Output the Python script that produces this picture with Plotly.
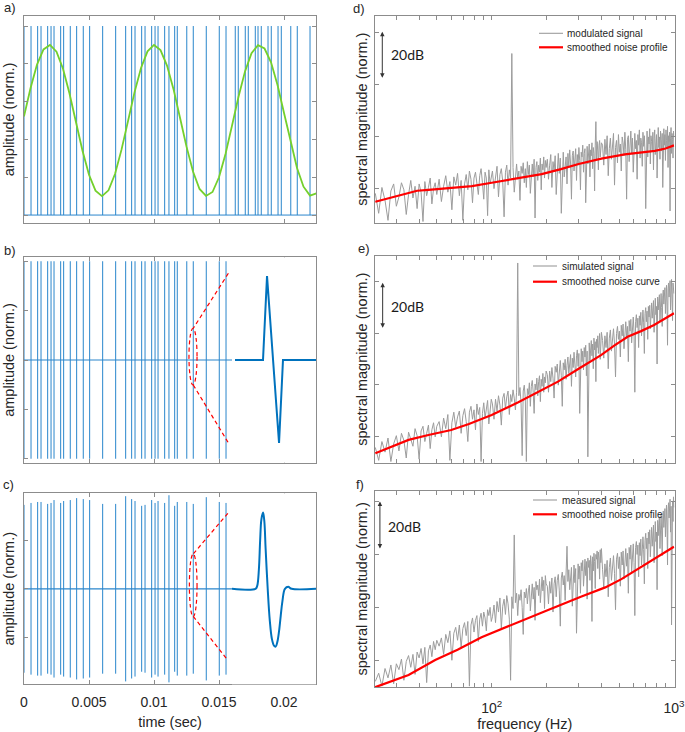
import plotly.graph_objects as go

# ---------------- data ----------------
# spike-train event times (s)
SPIKE_T = [0.0, 0.00054, 0.00105, 0.00131, 0.00182, 0.00208, 0.00231, 0.00282, 0.00305, 0.00356,
           0.00405, 0.00456, 0.00505, 0.00605, 0.00705, 0.00782, 0.00828, 0.00854, 0.00905, 0.00931,
           0.00982, 0.01008, 0.01031, 0.01082, 0.01115, 0.01159, 0.01179, 0.01252, 0.01302, 0.01402,
           0.01502, 0.01554, 0.01625, 0.01648, 0.01702, 0.01725, 0.01779, 0.01800, 0.01825, 0.01877,
           0.01902, 0.01954, 0.01979, 0.02052, 0.02102, 0.02200]
# panel c pulse amplitudes (first 32 events)
C_AMP = [0.87, 0.89, 0.90, 0.90, 0.88, 0.89, 0.92, 0.89, 0.91, 0.92, 0.94, 0.93, 0.92, 0.88, 0.88, 0.96,
         0.93, 0.91, 0.86, 0.87, 0.92, 0.89, 0.91, 0.89, 0.97, 0.86, 0.90, 0.90, 0.88, 0.95, 0.90, 0.89]
C_INSET_T = [0.01638, 0.01715, 0.01790, 0.01890, 0.01967, 0.02064, 0.02121, 0.02192]

# modulating sine (panel a)
SINE_T = [0.0, 0.0005, 0.001, 0.0015, 0.002, 0.0025, 0.003, 0.0035, 0.004, 0.0045, 0.005, 0.0055,
          0.006, 0.0065, 0.007, 0.0075, 0.008, 0.0085, 0.009, 0.0095, 0.01, 0.0105, 0.011, 0.0115,
          0.012, 0.0125, 0.013, 0.0135, 0.014, 0.0145, 0.015, 0.0155, 0.016, 0.0165, 0.017, 0.0175,
          0.018, 0.0185, 0.019, 0.0195, 0.02, 0.0205, 0.021, 0.0215, 0.022, 0.0225]
SINE_V = [0.522, 0.671, 0.796, 0.876, 0.900, 0.864, 0.774, 0.643, 0.491, 0.340, 0.213, 0.129,
          0.100, 0.131, 0.217, 0.346, 0.497, 0.649, 0.778, 0.866, 0.900, 0.873, 0.791, 0.666,
          0.515, 0.362, 0.230, 0.138, 0.101, 0.122, 0.200, 0.323, 0.473, 0.626, 0.760, 0.856,
          0.899, 0.881, 0.808, 0.688, 0.540, 0.386, 0.249, 0.150, 0.103, 0.115]

# zoomed pulse shapes (inset, normalised time 0..1)
WB_T = [0.036, 0.369, 0.417, 0.560, 0.607, 1.0]
WB_V = [0.0, 0.0, 0.85, -0.84, 0.0, 0.0]
WC_T = [0.0, 0.28, 0.30, 0.32, 0.335, 0.35, 0.37, 0.385, 0.40, 0.425, 0.45, 0.475, 0.50, 0.52,
        0.54, 0.56, 0.58, 0.60, 0.63, 0.67, 0.71, 1.0]
WC_V = [0.0, 0.0, 0.03, 0.20, 0.50, 0.72, 0.79, 0.70, 0.42, 0.0, -0.33, -0.52, -0.59, -0.60,
        -0.55, -0.44, -0.28, -0.13, 0.0, 0.02, 0.0, 0.0]

TIME_RANGE = [0.0, 0.02246]
INSET_T0 = 0.016
TIME_TICKS = [0, 0.005, 0.01, 0.015, 0.02]
TIME_LABELS = ["0", "0.005", "0.01", "0.015", "0.02"]

# spectra: frequency bins (Hz)
FREQ = [23, 24, 25, 26, 27, 28, 29, 30, 31, 32, 33, 34, 35, 36, 37, 38, 39, 40, 41, 42, 43, 44, 45, 46, 47, 48, 49, 50,
        51.5, 53, 54.5, 56, 57.5, 59, 60.5, 62, 63.5, 65, 66.5, 68, 69.5, 71, 72.5, 74, 75.5, 77, 78.5, 80, 81.5,
        83, 84.5, 86, 87.5, 89, 90.5, 92, 93.5, 95, 96.5, 98, 99.5,
        101, 103, 105, 107, 109, 111, 113, 115, 117, 119, 121, 123, 125, 127, 129, 131, 133, 135, 137, 139,
        141, 143, 145, 147, 149, 151, 153, 155, 157, 159, 161, 163, 165, 167, 169, 171, 173, 175, 177, 179,
        181, 183, 185, 187, 189, 191, 193, 195, 197, 199,
        202, 205, 208, 211, 214, 217, 220, 223, 226, 229, 232, 235, 238, 241, 244, 247, 250, 253, 256, 259,
        262, 265, 268, 271, 274, 277, 280, 283, 286, 289, 292, 295, 298, 301, 304, 307, 310, 313, 316, 319,
        322, 325, 328, 331, 334, 337, 340, 343, 346, 349, 352, 355, 358, 361, 364, 367, 370, 373, 376, 379,
        382, 385, 388, 391, 394, 397, 400,
        406, 412, 418, 424, 430, 436, 442, 448, 454, 460, 466, 472, 478, 484, 490, 496, 502, 508, 514, 520,
        526, 532, 538, 544, 550, 556, 562, 568, 574, 580, 586, 592, 598, 604, 610, 616, 622, 628, 634, 640,
        646, 652, 658, 664, 670, 676, 682, 688, 694, 700, 706, 712, 718, 724, 730, 736, 742, 748, 754, 760,
        766, 772, 778, 784, 790, 796, 802, 808, 814, 820, 826, 832, 838, 844, 850, 856, 862, 868, 874, 880,
        886, 892, 898, 904, 910, 916, 922, 928, 934, 940, 946, 952, 958, 964, 970, 976, 982, 988, 994, 1000]

# spectral magnitudes (dB, normalised) per bin
D_GRAY = [12.5, 4.0, 15.0, 9.5, 1.0, 13.5, 16.5, 7.0, 11.0, 17.0, 14.0, 3.5, 12.0, 18.0, 10.5, 15.5, 6.0, 16.5, 13.0, 0.5,
          17.5, 11.5, 15.0, 19.0, 8.0, 14.5, 17.0, 12.0,
          18.5, 9.0, 15.5, 20.0, 13.0, 17.5, 5.5, 19.5, 16.0, 21.0, 11.5, 18.0, 1.0, 16.5, 20.5, 14.0, 22.0, 18.5, 8.5,
          19.0, 21.5, 15.5, 12.0, 20.0, 23.0, 17.0, 10.0, 21.5, 19.0, 3.0, 22.5, 16.5, 20.0,
          22.0, 14.5, 19.5, 24.0, 11.0, 20.5, 23.0, 17.5, 2.5, 21.5, 24.5, 16.0, 22.5, 19.0, 72.0, 23.5, 13.0, 20.0, 25.0,
          18.5, 22.0, 9.5, 24.0, 21.0, 25.5, 17.0, 23.0, 15.0, 26.0, 20.5, 24.5, 12.5, 22.0, 25.0, 19.5, 27.0, 2.0, 23.5,
          26.0, 18.0, 24.5, 21.5, 27.5, 14.0, 25.0, 22.5, 28.0, 19.0, 26.5, 23.5,
          27.0, 18.5, 24.5, 29.0, 15.0, 26.0, 22.0, 28.5, 12.0, 25.5, 29.5, 21.0, 27.5, 4.0, 24.0, 30.0, 19.5, 26.5, 28.0, 16.5,
          29.5, 23.5, 31.0, 25.0, 10.0, 28.5, 30.5, 22.0, 27.0, 31.5, 18.0, 29.0, 24.5, 32.0, 26.5, 14.0, 30.0, 28.0, 33.0, 21.5,
          29.5, 31.5, 8.5, 27.5, 32.5, 25.0, 30.5, 33.5, 19.5, 31.0, 28.5, 34.0, 23.0, 32.0, 29.5, 13.5, 33.0, 43.0, 27.0, 34.5,
          30.5, 22.5, 33.0, 35.0, 28.0, 31.5, 34.0,
          33.0, 24.5, 35.5, 29.0, 37.0, 20.0, 31.5, 36.0, 27.0, 34.5, 38.0, 16.0, 32.0, 35.0, 25.5, 37.5, 30.0, 33.5, 22.0, 36.5,
          34.0, 28.5, 38.5, 31.0, 10.0, 35.5, 37.0, 26.0, 33.0, 39.0, 29.5, 36.0, 21.5, 34.5, 38.0, 31.5, 35.0, 18.5, 37.5, 33.0,
          39.5, 27.5, 36.0, 34.0, 24.0, 38.5, 32.5, 37.0, 30.0, 6.0, 35.5, 39.0, 28.0, 36.5, 33.5, 40.0, 25.0, 37.0, 34.5, 31.0,
          38.5, 22.5, 36.0, 39.5, 29.0, 35.0, 37.5, 19.0, 34.0, 40.5, 32.0, 36.5, 27.0, 39.0, 35.5, 30.5, 38.0, 15.0, 36.5, 40.0,
          33.0, 37.5, 26.5, 39.5, 35.0, 31.5, 41.0, 23.5, 37.0, 34.5, 38.5, 5.0, 36.0, 40.5, 29.5, 38.0, 35.5, 27.5, 39.0, 36.5]
D_RED_F = [23, 39, 45, 58, 78, 100, 124, 150, 188, 240, 300, 400, 537, 650, 785, 900, 1000]
D_RED_DB = [8.9, 13.6, 14.0, 14.6, 15.6, 17.0, 18.2, 19.3, 20.7, 22.8, 25.0, 27.3, 29.1, 29.8, 30.6, 31.6, 32.9]

E_GRAY = [6.5, 1.0, 9.0, 4.5, 10.5, 0.5, 8.0, 11.5, 5.0, 12.5, 9.5, 2.0, 13.0, 10.0, 7.0, 14.5, 11.5, 1.5, 13.5, 15.5,
          9.0, 12.5, 16.0, 6.0, 14.0, 17.0, 11.0, 15.5,
          17.5, 11.0, 19.0, 14.5, 20.5, 1.0, 17.0, 21.5, 15.0, 19.5, 22.0, 12.5, 20.0, 23.0, 17.5, 9.0, 21.5, 24.0, 18.5,
          22.5, 14.0, 25.0, 20.5, 23.5, 0.5, 21.0, 25.5, 19.0, 24.0, 26.5, 16.5, 23.0, 27.0,
          25.0, 18.5, 27.0, 22.0, 28.5, 24.5, 16.0, 27.5, 29.5, 23.0, 28.0, 30.5, 20.5, 29.0, 26.0, 31.0, 27.5, 22.5, 30.0, 85.0,
          28.5, 32.0, 25.0, 3.0, 30.5, 33.0, 27.0, 0.5, 31.5, 29.0, 34.0, 24.0, 32.5, 35.0, 30.0, 21.0, 33.5, 31.0, 36.0, 28.5,
          34.5, 37.0, 26.0, 35.5, 32.5, 38.0, 30.0, 36.5, 34.0, 39.0,
          37.5, 30.0, 39.0, 34.5, 40.5, 36.0, 27.5, 41.0, 38.5, 42.0, 33.0, 40.0, 43.5, 37.0, 24.0, 42.5, 39.5, 44.0, 35.5, 41.5,
          45.0, 38.0, 43.0, 46.0, 32.5, 44.5, 40.5, 47.0, 42.0, 36.5, 45.5, 48.0, 41.0, 46.5, 21.0, 44.0, 48.5, 43.0, 47.5, 39.5,
          49.0, 45.0, 50.0, 37.0, 47.5, 2.5, 46.0, 51.0, 43.5, 49.5, 52.0, 45.5, 50.5, 40.0, 53.0, 48.0, 51.5, 34.5, 52.5, 49.0,
          54.0, 46.5, 53.0, 55.0, 44.0, 51.0, 55.5,
          52.0, 44.5, 54.0, 49.0, 55.5, 40.0, 53.0, 56.5, 47.5, 54.5, 57.0, 50.5, 36.5, 55.0, 58.0, 52.5, 56.0, 45.0, 58.5, 54.0,
          59.0, 48.5, 57.0, 60.0, 53.5, 58.0, 43.0, 60.5, 56.0, 61.0, 51.0, 59.5, 62.0, 55.5, 30.0, 60.0, 63.0, 57.5, 61.5, 49.0,
          62.5, 58.5, 64.0, 54.0, 61.0, 65.0, 59.5, 46.5, 63.5, 66.0, 60.0, 64.5, 52.5, 66.5, 62.0, 67.0, 57.0, 65.5, 68.0, 61.5,
          64.0, 69.0, 55.5, 67.5, 70.0, 63.0, 66.5, 42.0, 70.5, 65.0, 68.5, 71.5, 60.0, 69.5, 72.0, 66.0, 58.0, 71.0, 73.5, 67.5,
          70.0, 74.5, 63.5, 72.5, 75.5, 68.0, 50.0, 74.0, 76.5, 70.5, 73.0, 77.5, 65.0, 75.0, 78.0, 71.5, 60.5, 76.5, 74.0, 72.0]
E_RED_F = [23, 35, 45, 60, 75, 100, 140, 180, 231, 300, 398, 470, 557, 660, 778, 1000]
E_RED_DB = [4.0, 9.7, 11.8, 13.9, 16.5, 20.3, 25.7, 30.0, 34.5, 40.0, 45.8, 49.8, 53.6, 56.0, 58.6, 63.6]

F_GRAY = [2.5, 6.0, 0.5, 8.0, 4.0, 9.5, 1.5, 10.0, 7.5, 12.0, 3.0, 11.0, 13.5, 8.5, 14.0, 5.5, 15.0, 12.5, 16.5, 10.0,
          17.0, 2.0, 15.5, 18.0, 13.0, 19.5, 16.0, 20.0,
          17.5, 21.0, 14.0, 22.5, 19.0, 24.0, 11.5, 23.0, 25.5, 20.0, 26.5, 17.0, 25.0, 27.5, 22.0, 28.0, 0.5, 26.5, 29.5,
          23.5, 28.5, 30.5, 19.5, 29.0, 31.5, 26.0, 32.0, 29.5, 24.0, 33.0, 30.5, 34.0, 28.0,
          30.0, 35.0, 27.5, 36.5, 32.0, 38.0, 25.0, 34.5, 37.5, 31.0, 39.0, 35.5, 29.0, 3.0, 38.5, 33.5, 64.8, 36.0, 40.0, 30.5,
          39.5, 37.0, 41.5, 34.0, 22.5, 40.5, 38.0, 42.0, 35.5, 41.0, 43.5, 32.5, 40.0, 44.0, 37.5, 42.5, 28.5, 45.0, 41.5, 43.5,
          39.0, 46.0, 36.0, 44.5, 47.0, 41.0, 45.5, 33.5, 47.5, 44.0,
          43.0, 35.5, 45.0, 40.0, 46.5, 32.0, 44.0, 47.0, 38.5, 45.5, 48.0, 41.0, 26.0, 46.5, 49.0, 43.5, 47.5, 37.0, 49.5, 60.0,
          45.0, 50.0, 41.5, 48.5, 51.0, 34.5, 49.0, 52.0, 44.5, 50.5, 23.0, 48.0, 52.5, 46.0, 51.5, 40.0, 53.0, 49.5, 54.0, 43.0,
          52.0, 54.5, 47.5, 53.5, 37.5, 55.0, 51.0, 54.0, 45.5, 56.0, 52.5, 28.0, 55.5, 49.5, 57.0, 53.5, 42.0, 56.5, 54.5, 58.0,
          50.5, 57.5, 55.0, 46.0, 58.5, 53.0, 59.0,
          50.0, 42.5, 52.5, 47.0, 54.0, 38.5, 51.0, 55.0, 45.5, 53.0, 56.0, 48.5, 33.0, 54.5, 57.0, 50.5, 55.5, 43.0, 57.5, 52.0,
          58.0, 46.0, 56.0, 59.0, 51.5, 57.0, 40.0, 59.5, 54.5, 60.5, 49.0, 58.5, 61.0, 53.0, 30.5, 59.5, 62.0, 56.5, 60.5, 47.0,
          61.5, 56.0, 63.0, 52.0, 60.5, 64.0, 58.5, 44.0, 62.5, 65.5, 59.0, 63.5, 50.5, 66.0, 61.0, 67.0, 55.5, 64.5, 68.0, 60.0,
          63.5, 69.0, 53.0, 67.0, 70.5, 62.0, 66.0, 41.5, 71.0, 64.5, 69.5, 72.5, 59.0, 70.0, 73.5, 66.5, 56.0, 72.0, 75.0, 68.0,
          71.5, 76.0, 64.0, 74.0, 77.5, 69.0, 52.0, 75.5, 78.5, 72.0, 74.5, 80.0, 66.0, 77.0, 26.5, 73.0, 79.0, 70.5, 81.0, 76.5]
F_RED_F = [22.9, 35, 49, 65, 88, 134, 204, 311, 420, 515, 610, 780, 1000]
F_RED_DB = [0.0, 5.2, 11.6, 16.0, 21.3, 27.2, 32.9, 38.6, 42.5, 46.0, 49.5, 54.5, 59.8]

FREQ_TICKS = [100, 1000]
FREQ_LABELS = ["10<sup>2</sup>", "10<sup>3</sup>"]
FREQ_MINOR = [30, 40, 50, 60, 70, 80, 90, 200, 300, 400, 500, 600, 700, 800, 900]
LOGF_RANGE = [1.36, 3.003]

PANELS = {
    "d": dict(signal="modulated signal", smooth="smoothed noise profile", yrange=[0, 88.1],
              yticks=[14.6, 36.6, 58.8, 81.0], arrow=[81.3, 61.1], label_y=71.4,
              gray=D_GRAY, rf=D_RED_F, rdb=D_RED_DB),
    "e": dict(signal="simulated signal", smooth="smoothed noise curve", yrange=[0, 88.1],
              yticks=[11.1, 33.1, 55.1, 77.0], arrow=[76.6, 56.8], label_y=66.4,
              gray=E_GRAY, rf=E_RED_F, rdb=E_RED_DB),
    "f": dict(signal="measured signal", smooth="smoothed noise profile", yrange=[0, 83.7],
              yticks=[11.2, 33.9, 56.3, 78.9], arrow=[79.0, 58.4], label_y=68.3,
              gray=F_GRAY, rf=F_RED_F, rdb=F_RED_DB),
}

# zoom-indicator geometry (data units of panels b and c)
ZOOM_B = dict(top=[0.01572, 0.878, 0.01302, 0.321], bot=[0.01302, -0.253, 0.01572, -0.839],
              ell=[0.01269, -0.253, 0.01331, 0.321])
ZOOM_C = dict(top=[0.01568, 0.783, 0.01302, 0.362], bot=[0.01302, -0.286, 0.01564, -0.734],
              ell=[0.01272, -0.29, 0.01331, 0.362])

# ---------------- style ----------------
FONT = "Liberation Sans, Arial, Helvetica, sans-serif"
TXT = "#262626"
AXC = "#8c8c8c"
BLUE = "#0072BD"
SPIKE = "#2a86cc"
GREEN = "#74D02C"
GRAY = "#9c9c9c"
RED = "#FF0000"

W, H = 685, 732
ML, MR, MT, MB = 24, 10, 15, 44
PW, PH = W - ML - MR, H - MT - MB


def px_x(p):
    return (p - ML) / PW


def px_y(p):
    return (H - MB - p) / PH


fig = go.Figure()


def add_segments(times, lo, hi, xa, ya, width=1.0, color=SPIKE):
    xs, ys = [], []
    for t, l, h in zip(times, lo, hi):
        xs += [t, t, None]
        ys += [l, h, None]
    fig.add_trace(go.Scatter(x=xs, y=ys, mode="lines", xaxis=xa, yaxis=ya, showlegend=False,
                             line=dict(color=color, width=width), hoverinfo="skip"))


# panel a
add_segments(SPIKE_T, [0] * len(SPIKE_T), [1] * len(SPIKE_T), "x", "y")
fig.add_trace(go.Scatter(x=TIME_RANGE, y=[0, 0], mode="lines", xaxis="x", yaxis="y", showlegend=False,
                         line=dict(color=SPIKE, width=1.0)))
fig.add_trace(go.Scatter(x=SINE_T, y=SINE_V, mode="lines", xaxis="x", yaxis="y", showlegend=False,
                         line=dict(color=GREEN, width=1.8)))

# panel b
early = [t for t in SPIKE_T if t < INSET_T0]
late = [t for t in SPIKE_T if t >= INSET_T0]
add_segments(early, [-1] * len(early), [1] * len(early), "x2", "y2")
add_segments(late, [0.89] * len(late), [0.99] * len(late), "x2", "y2")
add_segments(late, [-1.0] * len(late), [-0.88] * len(late), "x2", "y2")
fig.add_trace(go.Scatter(x=[0, INSET_T0], y=[0, 0], mode="lines", xaxis="x2", yaxis="y2", showlegend=False,
                         line=dict(color=SPIKE, width=1.2)))
fig.add_trace(go.Scatter(x=WB_T, y=WB_V, mode="lines", xaxis="x7", yaxis="y7", showlegend=False,
                         line=dict(color=BLUE, width=2)))

# panel c
c_early = [(t, a) for t, a in zip(SPIKE_T, C_AMP) if t < INSET_T0]
add_segments([t for t, a in c_early], [-a for t, a in c_early], [a for t, a in c_early], "x3", "y3")
add_segments(C_INSET_T, [0.85] * len(C_INSET_T), [0.91] * len(C_INSET_T), "x3", "y3")
add_segments(C_INSET_T, [-0.89] * len(C_INSET_T), [-0.82] * len(C_INSET_T), "x3", "y3")
fig.add_trace(go.Scatter(x=[0, INSET_T0], y=[0, 0], mode="lines", xaxis="x3", yaxis="y3", showlegend=False,
                         line=dict(color=SPIKE, width=1.2)))
fig.add_trace(go.Scatter(x=WC_T, y=WC_V, mode="lines", xaxis="x8", yaxis="y8", showlegend=False,
                         line=dict(color=BLUE, width=2), line_shape="spline"))

# spectra
for idx, (key, p) in enumerate(PANELS.items()):
    n = idx + 4
    fig.add_trace(go.Scatter(x=FREQ, y=p["gray"], mode="lines", name=p["signal"], showlegend=False,
                             xaxis=f"x{n}", yaxis=f"y{n}", line=dict(color=GRAY, width=1.0)))
    fig.add_trace(go.Scatter(x=p["rf"], y=p["rdb"], mode="lines", name=p["smooth"], showlegend=False,
                             xaxis=f"x{n}", yaxis=f"y{n}", line=dict(color=RED, width=2.2)))

# ---------------- layout ----------------
XL = [px_x(24), px_x(316)]
XR = [px_x(375), px_x(674.5)]
YD = {
    "a": [px_y(223), px_y(16)], "b": [px_y(462.7), px_y(257.3)], "c": [px_y(684.3), px_y(493.3)],
    "d": [px_y(222.7), px_y(15.7)], "e": [px_y(462.7), px_y(255.7)], "f": [px_y(687.3), px_y(490.5)],
}

common = dict(ticks="inside", ticklen=4, tickcolor=AXC, showline=True, linecolor=AXC, linewidth=1,
              mirror="ticks", showgrid=False, zeroline=False, automargin=False,
              ticklabeloverflow="allow", tickfont=dict(size=14, color=TXT, family=FONT))


def time_axis(anchor, domain, show):
    d = dict(common, domain=domain, anchor=anchor, range=TIME_RANGE, tickmode="array",
             tickvals=TIME_TICKS, ticktext=TIME_LABELS, showticklabels=show)
    if show:
        d["ticklabelstandoff"] = 5
        d["title"] = dict(text="time (sec)", font=dict(size=14.5, color=TXT, family=FONT), standoff=7)
    return d


def amp_axis(anchor, domain, rng, ticks):
    return dict(common, domain=domain, anchor=anchor, range=rng, tickmode="array", tickvals=ticks,
                showticklabels=False,
                title=dict(text="amplitude (norm.)", font=dict(size=14.5, color=TXT, family=FONT), standoff=4))


def freq_axis(anchor, domain, show):
    d = dict(common, domain=domain, anchor=anchor, type="log", range=LOGF_RANGE, tickmode="array",
             tickvals=FREQ_TICKS, ticktext=FREQ_LABELS, showticklabels=show,
             minor=dict(tickmode="array", tickvals=FREQ_MINOR, ticks="inside", ticklen=4, tickcolor=AXC,
                        showgrid=False))
    if show:
        d["ticklabelstandoff"] = 8
        d["title"] = dict(text="frequency (Hz)", font=dict(size=14.5, color=TXT, family=FONT), standoff=6)
    return d


def spec_axis(anchor, domain, rng, ticks):
    return dict(common, domain=domain, anchor=anchor, range=rng, tickmode="array", tickvals=ticks,
                showticklabels=False,
                title=dict(text="spectral magnitude (norm.)", font=dict(size=14.5, color=TXT, family=FONT),
                           standoff=2))


lay = dict(
    width=W, height=H, margin=dict(l=ML, r=MR, t=MT, b=MB), paper_bgcolor="white", plot_bgcolor="white",
    font=dict(family=FONT, color=TXT), showlegend=False,
    xaxis=time_axis("y", XL, False), yaxis=amp_axis("x", YD["a"], [-0.042, 1.053], [0, 0.2, 0.4, 0.6, 0.8, 1.0]),
    xaxis2=time_axis("y2", XL, False), yaxis2=amp_axis("x2", YD["b"], [-1.04, 1.04], [-1, -0.5, 0, 0.5, 1]),
    xaxis3=time_axis("y3", XL, True), yaxis3=amp_axis("x3", YD["c"], [-0.99, 0.99], [-0.5, 0, 0.5]),
    xaxis4=freq_axis("y4", XR, False),
    yaxis4=spec_axis("x4", YD["d"], PANELS["d"]["yrange"], PANELS["d"]["yticks"]),
    xaxis5=freq_axis("y5", XR, False),
    yaxis5=spec_axis("x5", YD["e"], PANELS["e"]["yrange"], PANELS["e"]["yticks"]),
    xaxis6=freq_axis("y6", XR, True),
    yaxis6=spec_axis("x6", YD["f"], PANELS["f"]["yrange"], PANELS["f"]["yticks"]),
    xaxis7=dict(domain=[px_x(232), px_x(316)], anchor="y7", range=[0, 1], visible=False),
    yaxis7=dict(domain=YD["b"], anchor="x7", range=[-1.04, 1.04], visible=False),
    xaxis8=dict(domain=[px_x(232), px_x(316)], anchor="y8", range=[0, 1], visible=False),
    yaxis8=dict(domain=YD["c"], anchor="x8", range=[-0.99, 0.99], visible=False),
)
fig.update_layout(**lay)

# legends (line samples + labels), one per spectrum panel
LEGEND_POS = {"d": (539, 563, 565, 33.3, 47.3), "e": (533, 557, 560, 266, 281.7), "f": (533, 557, 560, 500, 514.3)}
for key, p in PANELS.items():
    x0, x1, tx, r1, r2 = LEGEND_POS[key]
    for (row, col, wdt, label) in ((r1, GRAY, 1.1, p["signal"]), (r2, RED, 2.2, p["smooth"])):
        fig.add_shape(type="line", xref="paper", yref="paper", x0=px_x(x0), x1=px_x(x1), y0=px_y(row),
                      y1=px_y(row), line=dict(color=col, width=wdt))
        fig.add_annotation(text=label, xref="paper", yref="paper", x=px_x(tx), y=px_y(row), xanchor="left",
                           yanchor="middle", showarrow=False, font=dict(size=10, color=TXT, family=FONT))

# zoom indicators
dash_line = dict(color=RED, width=1.2, dash="4px,3px")
for (xa, ya), z in ((("x2", "y2"), ZOOM_B), (("x3", "y3"), ZOOM_C)):
    for k in ("top", "bot"):
        x0, y0, x1, y1 = z[k]
        fig.add_shape(type="line", xref=xa, yref=ya, x0=x0, y0=y0, x1=x1, y1=y1, line=dash_line)
    x0, y0, x1, y1 = z["ell"]
    fig.add_shape(type="circle", xref=xa, yref=ya, x0=x0, y0=y0, x1=x1, y1=y1, line=dash_line)

# panel letters
LETTERS = [("a)", 2, 7), ("b)", 2, 251), ("c)", 1, 484), ("d)", 351, 8), ("e)", 356, 248), ("f)", 354, 484)]
for txt, lx, ly in LETTERS:
    fig.add_annotation(text=txt, xref="paper", yref="paper", x=px_x(lx), y=px_y(ly), xanchor="left",
                       yanchor="middle", showarrow=False, font=dict(size=13, color=TXT, family=FONT))

# 20 dB scale arrows
ARROW_X = {"d": 1.40, "e": 1.402, "f": 1.387}
LABEL_X = {"d": 1.437, "e": 1.437, "f": 1.419}
for idx, (key, p) in enumerate(PANELS.items()):
    n = idx + 4
    y_top, y_bot = p["arrow"]
    fig.add_annotation(xref=f"x{n}", yref=f"y{n}", axref=f"x{n}", ayref=f"y{n}",
                       x=ARROW_X[key], y=y_top, ax=ARROW_X[key], ay=y_bot, text="", showarrow=True,
                       arrowhead=2, arrowside="end+start", arrowsize=0.9, arrowwidth=1, arrowcolor="#333333")
    fig.add_annotation(xref=f"x{n}", yref=f"y{n}", x=LABEL_X[key], y=p["label_y"], text="20dB",
                       showarrow=False, xanchor="left", yanchor="middle",
                       font=dict(size=14, color="#1a1a1a", family="Lato, Noto Sans, sans-serif"))

fig.write_html("out.html", config={"displayModeBar": False},
               post_script="document.body.style.margin='0';")
